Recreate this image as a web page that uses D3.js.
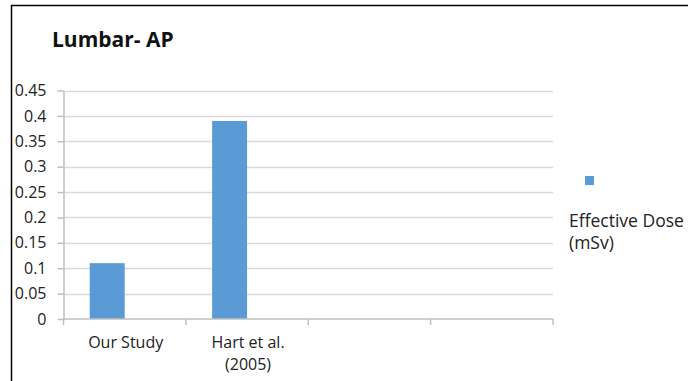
<!DOCTYPE html>
<html>
<head>
<meta charset="utf-8">
<script src="https://cdn.jsdelivr.net/npm/d3@7"></script>
<style>
  html, body { margin: 0; padding: 0; background: #fff; }
  svg { display: block; font-family: "Open Sans", "Noto Sans", sans-serif; }
</style>
</head>
<body>
<svg id="chart" width="688" height="381"></svg>
<script>
// Category slots along the x axis (the last two are left empty)
const categories = ["c1", "c2", "c3", "c4"];
const categoryLabels = [["Our Study"], ["Hart et al.", "(2005)"], [], []];
// Series in each cluster; the second one carries no values
const seriesNames = ["Effective Dose (mSv)", "blank"];
const effectiveDose = [0.11, 0.39, null, null];
const yTicks = [0, 0.05, 0.1, 0.15, 0.2, 0.25, 0.3, 0.35, 0.4, 0.45];
const yTickLabels = ["0", "0.05", "0.1", "0.15", "0.2", "0.25", "0.3", "0.35", "0.4", "0.45"];
const titleText = "Lumbar- AP";

const svg = d3.select("#chart");
const plot = { left: 63.5, right: 553, top: 90.5, bottom: 319 };

// Outer frame (top and left edges visible)
svg.append("path")
  .attr("d", "M11.5,381 L11.5,5.5 L688,5.5")
  .attr("fill", "none").attr("stroke", "#000").attr("stroke-width", 1.5);

svg.append("text")
  .attr("x", 52).attr("y", 47)
  .attr("font-size", 21).attr("font-weight", "bold").attr("fill", "#111")
  .text(titleText);

const x0 = d3.scaleBand().domain(categories).range([plot.left, plot.right]).paddingInner(0).paddingOuter(0);
const x1 = d3.scaleBand().domain(seriesNames).range([0, x0.bandwidth()]).paddingInner(0).paddingOuter(0.75);
const y = d3.scaleLinear().domain([0, 0.45]).range([plot.bottom, plot.top]);

// Horizontal gridlines
svg.append("g").selectAll("line").data(yTicks.slice(1)).join("line")
  .attr("x1", plot.left).attr("x2", plot.right)
  .attr("y1", d => Math.round(y(d)) + 0.5).attr("y2", d => Math.round(y(d)) + 0.5)
  .attr("stroke", "#d9d9d9").attr("stroke-width", 1.5);

// Y axis
const yAxis = d3.axisLeft(y).tickValues(yTicks)
  .tickFormat((d, i) => yTickLabels[i]).tickSize(6).tickSizeOuter(0).tickPadding(11);
const gy = svg.append("g").attr("transform", `translate(${plot.left},0)`).call(yAxis);
gy.select(".domain").attr("stroke", "#bfbfbf").attr("stroke-width", 1.5);
gy.selectAll(".tick line").attr("stroke", "#bfbfbf").attr("stroke-width", 1.5);
gy.selectAll(".tick text").attr("font-size", 16).attr("fill", "#222")
  .attr("font-family", "'Open Sans', sans-serif");

// Bars
const bars = categories.map((c, i) => ({ cat: c, series: seriesNames[0], value: effectiveDose[i] }))
  .filter(d => d.value != null);
svg.append("g").selectAll("rect").data(bars).join("rect")
  .attr("x", d => x0(d.cat) + x1(d.series))
  .attr("width", x1.bandwidth())
  .attr("y", d => y(d.value))
  .attr("height", d => y(0) - y(d.value))
  .attr("fill", "#5b9bd5");

// X axis with tick marks at the category boundaries
const gx = svg.append("g");
gx.append("line").attr("x1", plot.left).attr("x2", plot.right)
  .attr("y1", plot.bottom).attr("y2", plot.bottom)
  .attr("stroke", "#bfbfbf").attr("stroke-width", 1.5);
const bounds = categories.map(c => x0(c)).concat([x0(categories[categories.length - 1]) + x0.bandwidth()]);
gx.selectAll("line.tk").data(bounds).join("line").attr("class", "tk")
  .attr("x1", d => d).attr("x2", d => d)
  .attr("y1", plot.bottom).attr("y2", plot.bottom + 6)
  .attr("stroke", "#bfbfbf").attr("stroke-width", 1.5);

const catLabel = gx.selectAll("text.cat").data(categories).join("text").attr("class", "cat")
  .attr("text-anchor", "middle").attr("font-size", 16).attr("fill", "#222");
catLabel.each(function (d, i) {
  d3.select(this).selectAll("tspan").data(categoryLabels[i]).join("tspan")
    .attr("x", x0(d) + x0.bandwidth() / 2 + 1)
    .attr("y", (t, j) => 348 + j * 22)
    .text(t => t);
});

// Legend
const legend = svg.append("g");
legend.append("rect").attr("x", 585).attr("y", 176).attr("width", 9).attr("height", 9).attr("fill", "#5b9bd5");
const legendLines = ["Effective Dose", "(mSv)"];
legend.append("text").attr("font-size", 17.5).attr("fill", "#222")
  .selectAll("tspan").data(legendLines).join("tspan")
  .attr("x", 569).attr("y", (t, j) => 227 + j * 22).text(t => t);
</script>
</body>
</html>
